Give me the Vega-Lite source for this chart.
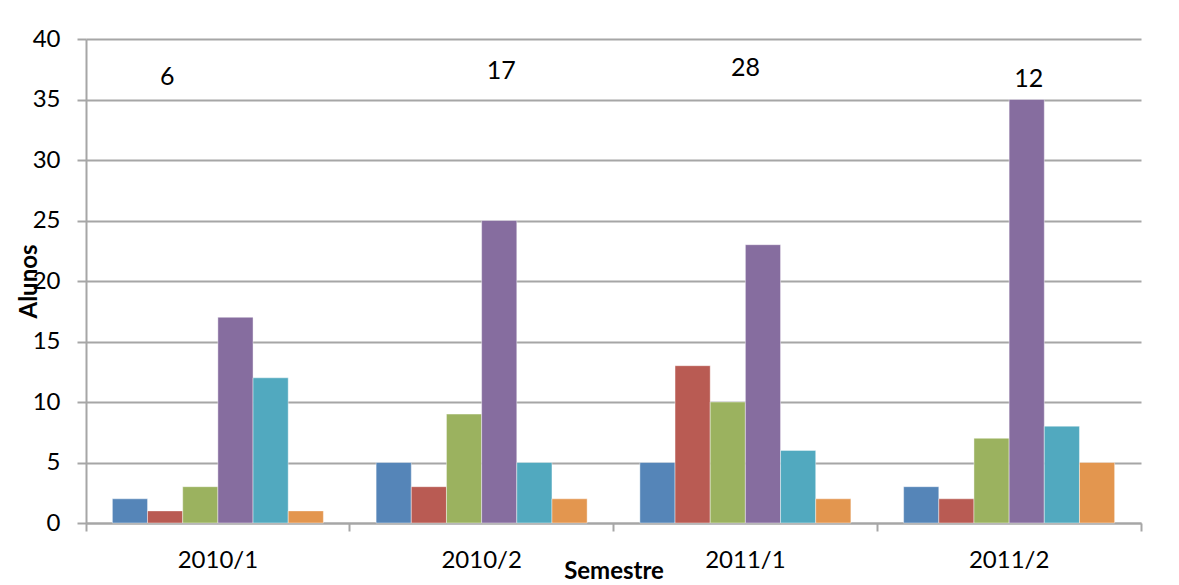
{
  "$schema": "https://vega.github.io/schema/vega-lite/v6.json",
  "width": 1055,
  "height": 484,
  "autosize": {"type": "none"},
  "padding": {"left": 86, "top": 39, "right": 38, "bottom": 62},
  "background": "#ffffff",
  "config": {
    "view": {"stroke": null},
    "font": "Lato",
    "text": {"font": "Lato"}
  },
  "datasets": {
    "bars": [
      {"semestre": "2010/1", "serie": "S1", "alunos": 2},
      {"semestre": "2010/1", "serie": "S2", "alunos": 1},
      {"semestre": "2010/1", "serie": "S3", "alunos": 3},
      {"semestre": "2010/1", "serie": "S4", "alunos": 17},
      {"semestre": "2010/1", "serie": "S5", "alunos": 12},
      {"semestre": "2010/1", "serie": "S6", "alunos": 1},
      {"semestre": "2010/2", "serie": "S1", "alunos": 5},
      {"semestre": "2010/2", "serie": "S2", "alunos": 3},
      {"semestre": "2010/2", "serie": "S3", "alunos": 9},
      {"semestre": "2010/2", "serie": "S4", "alunos": 25},
      {"semestre": "2010/2", "serie": "S5", "alunos": 5},
      {"semestre": "2010/2", "serie": "S6", "alunos": 2},
      {"semestre": "2011/1", "serie": "S1", "alunos": 5},
      {"semestre": "2011/1", "serie": "S2", "alunos": 13},
      {"semestre": "2011/1", "serie": "S3", "alunos": 10},
      {"semestre": "2011/1", "serie": "S4", "alunos": 23},
      {"semestre": "2011/1", "serie": "S5", "alunos": 6},
      {"semestre": "2011/1", "serie": "S6", "alunos": 2},
      {"semestre": "2011/2", "serie": "S1", "alunos": 3},
      {"semestre": "2011/2", "serie": "S2", "alunos": 2},
      {"semestre": "2011/2", "serie": "S3", "alunos": 7},
      {"semestre": "2011/2", "serie": "S4", "alunos": 35},
      {"semestre": "2011/2", "serie": "S5", "alunos": 8},
      {"semestre": "2011/2", "serie": "S6", "alunos": 5}
    ],
    "notes": [
      {"semestre": "2010/1", "serie": "S2", "nivel": 36.9, "rotulo": "6"},
      {"semestre": "2010/2", "serie": "S4", "nivel": 37.35, "rotulo": "17"},
      {"semestre": "2011/2", "serie": "S4", "nivel": 36.7, "rotulo": "12"}
    ],
    "notesCenter": [
      {"semestre": "2011/1", "nivel": 37.6, "rotulo": "28"}
    ]
  },
  "layer": [
    {
      "data": {"name": "bars"},
      "mark": {"type": "bar", "stroke": "#ffffff", "strokeWidth": 0.6, "strokeOpacity": 0.7},
      "encoding": {
        "x": {
          "field": "semestre", "type": "nominal", "sort": null,
          "scale": {"paddingInner": 0, "paddingOuter": 0},
          "axis": {
            "title": "Semestre",
            "titleFont": "Lato", "titleFontSize": 24, "titleFontWeight": "bold", "titleColor": "#000000",
            "titleY": 48, "titleBaseline": "middle",
            "labelFont": "Lato", "labelFontSize": 24, "labelColor": "#000000",
            "labelAngle": 0, "labelPadding": 17,
            "bandPosition": 1, "tickExtra": true,
            "tickSize": 8, "tickColor": "#a6a6a6", "tickWidth": 2,
            "domainColor": "#a6a6a6", "domainWidth": 2,
            "grid": false
          }
        },
        "xOffset": {
          "field": "serie", "type": "nominal",
          "scale": {"paddingInner": 0, "paddingOuter": 0.75}
        },
        "y": {
          "field": "alunos", "type": "quantitative",
          "scale": {"domain": [0, 40], "nice": false},
          "axis": {
            "title": "Alunos",
            "titleFont": "Lato", "titleFontSize": 24, "titleFontWeight": "bold", "titleColor": "#000000",
            "titleX": -57, "titleY": 242, "titleAngle": -90, "titleBaseline": "middle", "titleAlign": "center",
            "values": [0, 5, 10, 15, 20, 25, 30, 35, 40],
            "labelFont": "Lato", "labelFontSize": 24, "labelColor": "#000000",
            "labelPadding": 17,
            "tickSize": 9, "tickColor": "#a6a6a6", "tickWidth": 2,
            "domainColor": "#a6a6a6", "domainWidth": 2,
            "grid": true, "gridColor": "#a6a6a6", "gridWidth": 2
          }
        },
        "color": {
          "field": "serie", "type": "nominal", "legend": null,
          "scale": {
            "domain": ["S1", "S2", "S3", "S4", "S5", "S6"],
            "range": ["#5585b8", "#b95b53", "#9bb25f", "#866d9f", "#51a9bf", "#e3964f"]
          }
        }
      }
    },
    {
      "data": {"name": "notes"},
      "mark": {"type": "text", "fontSize": 25, "font": "Lato", "color": "#000000", "baseline": "middle", "align": "center", "dx": 2},
      "encoding": {
        "x": {"field": "semestre", "type": "nominal", "sort": null},
        "xOffset": {"field": "serie", "type": "nominal"},
        "y": {"field": "nivel", "type": "quantitative"},
        "text": {"field": "rotulo"}
      }
    },
    {
      "data": {"name": "notesCenter"},
      "mark": {"type": "text", "fontSize": 25, "font": "Lato", "color": "#000000", "baseline": "middle", "align": "center"},
      "encoding": {
        "x": {"field": "semestre", "type": "nominal", "sort": null},
        "y": {"field": "nivel", "type": "quantitative"},
        "text": {"field": "rotulo"}
      }
    }
  ]
}
